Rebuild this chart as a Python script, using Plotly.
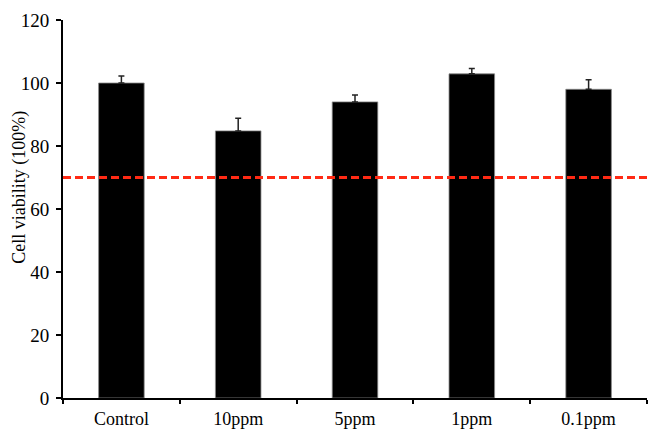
import plotly.graph_objects as go

categories = ["Control", "10ppm", "5ppm", "1ppm", "0.1ppm"]
viability = [100.0, 84.8, 94.0, 102.9, 98.0]
errors = [2.2, 4.0, 2.2, 1.7, 3.0]
threshold = 70
y_ticks = [0, 20, 40, 60, 80, 100, 120]

font_family = "Liberation Serif, Times New Roman, serif"

fig = go.Figure()
fig.add_trace(go.Bar(
    x=categories,
    y=viability,
    width=0.39,
    marker=dict(color="black", line=dict(color="#888888", width=0.8)),
    error_y=dict(type="data", array=errors, arrayminus=[0]*len(errors),
                 symmetric=False, color="#222222", thickness=1.5, width=3),
    showlegend=False,
))

fig.add_shape(type="line", xref="paper", yref="y", x0=0, x1=1,
              y0=threshold, y1=threshold,
              line=dict(color="#FF2A14", width=3, dash="8px,4px"))

fig.add_annotation(text="Cell viability (100%)", xref="paper", yref="paper",
                   x=-0.075, y=0.557, xanchor="center", yanchor="middle",
                   textangle=-90, showarrow=False, font=dict(size=18))

fig.update_layout(
    width=649, height=429,
    margin=dict(l=63, r=2, t=20, b=31, autoexpand=False),
    paper_bgcolor="white", plot_bgcolor="white",
    font=dict(family=font_family, color="black", size=18),
    bargap=0.61,
)
fig.update_xaxes(
    showline=True, linecolor="black", linewidth=2,
    ticks="outside", tickson="boundaries", ticklen=4, tickwidth=2, tickcolor="black",
    ticklabelstandoff=3, automargin=False,
    tickfont=dict(size=18),
    showgrid=False, zeroline=False,
)
fig.update_yaxes(
    range=[0, 120], tickvals=y_ticks,
    showline=True, linecolor="black", linewidth=2,
    ticks="outside", ticklen=5, tickwidth=2, tickcolor="black",
    ticklabelstandoff=3, automargin=False,
    tickfont=dict(size=19),
    showgrid=False, zeroline=False,
)

fig.write_html("out.html", config={"displayModeBar": False},
               post_script="document.body.style.margin='0px';document.body.style.overflow='hidden';")
